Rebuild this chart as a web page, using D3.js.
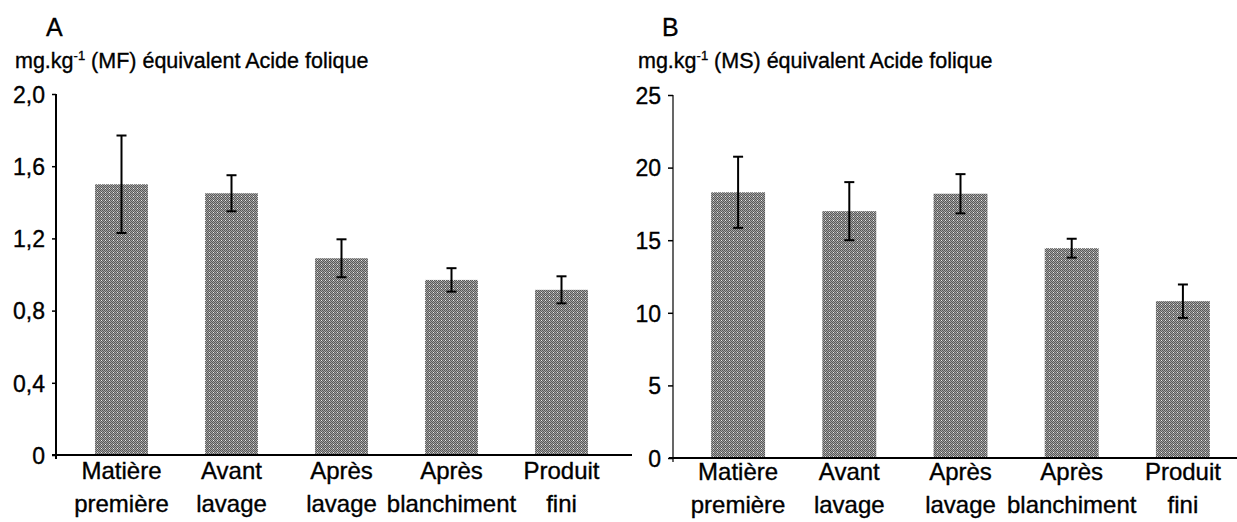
<!DOCTYPE html>
<html>
<head>
<meta charset="utf-8">
<script src="https://cdn.jsdelivr.net/npm/d3@7"></script>
<style>
  html, body { margin: 0; padding: 0; background: #fff; }
  svg { display: block; }
  text { font-family: "Liberation Sans", Arial, sans-serif; fill: #000; stroke: #000; stroke-width: 0.35px; }
</style>
</head>
<body>
<svg id="chart" width="1237" height="522"></svg>
<script>
// ---- Data ----
const catLines = [["Matière", "première"], ["Avant", "lavage"], ["Après", "lavage"], ["Après", "blanchiment"], ["Produit", "fini"]];
const categories = catLines.map(d => d.join(" "));
const valuesMF = [1.50, 1.45, 1.09, 0.97, 0.915];
const errorsMF = [0.27, 0.10, 0.105, 0.065, 0.075];
const valuesMS = [18.3, 17.0, 18.2, 14.45, 10.8];
const errorsMS = [2.45, 2.0, 1.35, 0.65, 1.15];
const ticksMF = [0, 0.4, 0.8, 1.2, 1.6, 2.0];
const tickLabelsMF = ["0", "0,4", "0,8", "1,2", "1,6", "2,0"];
const ticksMS = [0, 5, 10, 15, 20, 25];
const tickLabelsMS = ["0", "5", "10", "15", "20", "25"];

const svg = d3.select("#chart");

// checker pattern fill
const defs = svg.append("defs");
const pat = defs.append("pattern").attr("id", "checker")
  .attr("width", 4).attr("height", 4).attr("patternUnits", "userSpaceOnUse");
pat.append("rect").attr("width", 4).attr("height", 4).attr("fill", "#a4a4a4");
[[0,0],[2,0],[1,1],[3,1],[0,2],[2,2],[1,3],[3,3]].forEach(([x,y]) =>
  pat.append("rect").attr("x", x).attr("y", y).attr("width", 1).attr("height", 1).attr("fill", "#585858"));
pat.append("rect").attr("x", 1).attr("y", 0).attr("width", 1).attr("height", 1).attr("fill", "#e8e8e8");

function panel(cfg) {
  const g = svg.append("g");
  const y = d3.scaleLinear().domain([0, cfg.ticks[cfg.ticks.length - 1]]).range([cfg.y0, cfg.yTop]);
  const x = d3.scaleBand().domain(categories).range(cfg.xRange)
    .paddingInner(cfg.padIn).paddingOuter(cfg.padIn / 2);

  // bars
  g.selectAll("rect.bar").data(cfg.values).join("rect")
    .attr("class", "bar")
    .attr("x", (d, i) => x(categories[i]))
    .attr("width", x.bandwidth())
    .attr("y", d => y(d))
    .attr("height", d => cfg.y0 - y(d))
    .attr("fill", "url(#checker)");

  // error bars
  const eg = g.append("g").attr("stroke", "#000").attr("stroke-width", 2);
  cfg.values.forEach((v, i) => {
    const cx = x(categories[i]) + x.bandwidth() / 2;
    const e = cfg.errors[i];
    eg.append("line").attr("x1", cx).attr("x2", cx).attr("y1", y(v + e)).attr("y2", y(v - e));
    eg.append("line").attr("x1", cx - 5).attr("x2", cx + 5).attr("y1", y(v + e)).attr("y2", y(v + e));
    eg.append("line").attr("x1", cx - 5).attr("x2", cx + 5).attr("y1", y(v - e)).attr("y2", y(v - e));
  });

  // y axis
  const ya = g.append("g").attr("transform", `translate(${cfg.axisX},0)`)
    .call(d3.axisLeft(y).tickValues(cfg.ticks).tickFormat((d, i) => cfg.tickLabels[i])
      .tickSize(cfg.tickLen).tickPadding(7));
  ya.select(".domain").remove();
  ya.selectAll(".tick line").attr("stroke", "#000").attr("stroke-width", 1.5);
  ya.selectAll(".tick text").attr("font-size", cfg.tickFont).attr("font-family", "Liberation Sans, Arial, sans-serif")
    .attr("fill", "#000").attr("dy", "0.36em");
  g.append("line").attr("x1", cfg.axisX).attr("x2", cfg.axisX)
    .attr("y1", cfg.yTop).attr("y2", cfg.y0 + 4)
    .attr("stroke", "#000").attr("stroke-width", cfg.yAxisW);

  // x axis
  const xa = g.append("g").attr("transform", `translate(0,${cfg.y0})`)
    .call(d3.axisBottom(x).tickSize(0).tickFormat(""));
  xa.select(".domain").remove();
  g.append("line").attr("x1", cfg.axisX - 4).attr("x2", cfg.xEnd)
    .attr("y1", cfg.y0).attr("y2", cfg.y0)
    .attr("stroke", "#000").attr("stroke-width", 2);
  xa.selectAll(".tick").each(function (d, i) {
    const t = d3.select(this).append("text")
      .attr("text-anchor", "middle").attr("font-size", 24).attr("fill", "#000");
    catLines[i].forEach((ln, j) => {
      t.append("tspan").attr("x", 0).attr("y", cfg.catY[j]).text(ln);
    });
  });

  // panel letter
  svg.append("text").attr("x", cfg.letterX).attr("y", 36).attr("font-size", 25).text(cfg.letter);
  // unit label
  const ut = svg.append("text").attr("x", cfg.unitX).attr("y", 68).attr("font-size", 21.5);
  ut.append("tspan").text("mg.kg");
  ut.append("tspan").attr("font-size", 13).attr("dy", -8).text("-1");
  ut.append("tspan").attr("dy", 8).text(" " + cfg.unit + " équivalent Acide folique");
}

panel({
  values: valuesMF, errors: errorsMF, ticks: ticksMF, tickLabels: tickLabelsMF,
  y0: 455, yTop: 94, axisX: 56, xRange: [66.5, 616.5], padIn: 0.52, xEnd: 632,
  tickLen: 4, tickFont: 23, yAxisW: 2, catY: [24, 57],
  letter: "A", letterX: 46, unitX: 15, unit: "(MF)"
});
panel({
  values: valuesMS, errors: errorsMS, ticks: ticksMS, tickLabels: tickLabelsMS,
  y0: 458, yTop: 95, axisX: 673, xRange: [682.5, 1238.5], padIn: 0.515, xEnd: 1237,
  tickLen: 5, tickFont: 23, yAxisW: 1.2, catY: [22, 55],
  letter: "B", letterX: 662, unitX: 638, unit: "(MS)"
});
</script>
</body>
</html>
